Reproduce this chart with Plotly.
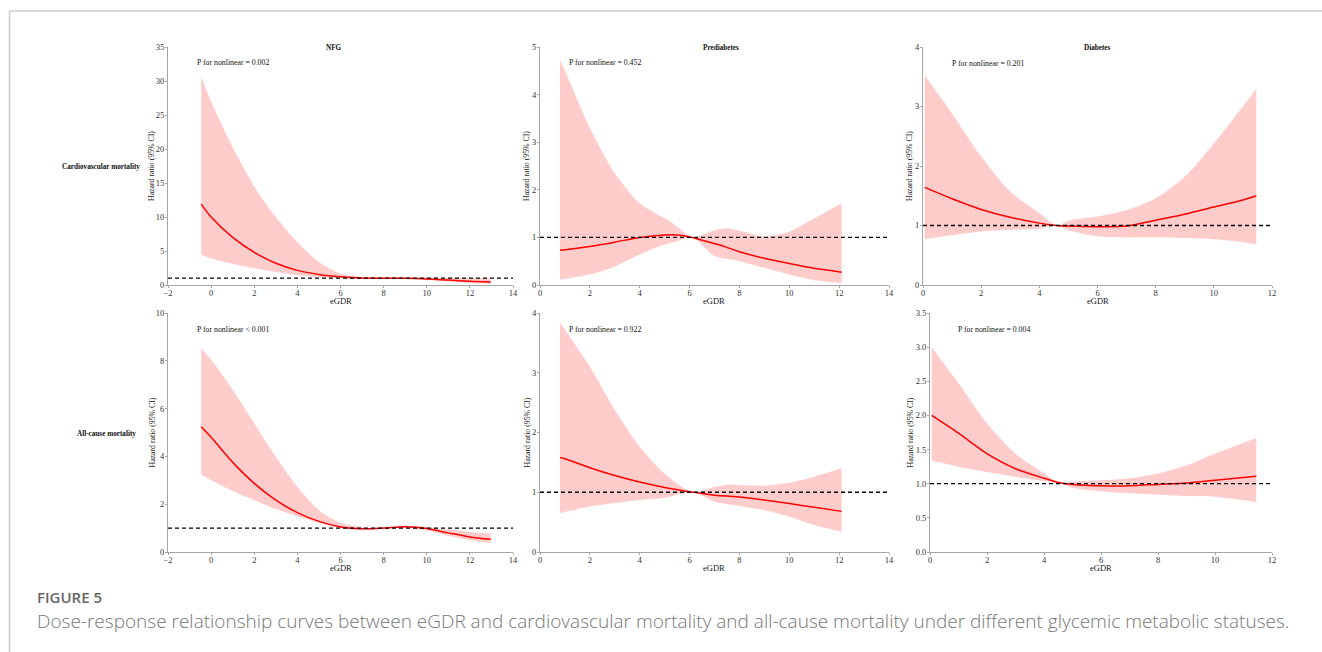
import plotly.graph_objects as go

W, H = 1322, 652

# ---------------- data ----------------
# Row 1: Cardiovascular mortality
nfg_cvd_x = [-0.46, 0, 1, 2, 3, 4, 5, 6, 7, 8, 9, 10, 11, 12, 12.97]
nfg_cvd_hr = [11.9, 10.0, 7.0, 4.8, 3.2, 2.15, 1.55, 1.2, 1.02, 1.0, 0.98, 0.9, 0.72, 0.55, 0.45]
nfg_cvd_up = [30.6, 27.0, 20.3, 14.5, 10.0, 6.3, 3.4, 1.7, 1.15, 1.05, 1.05, 1.1, 1.05, 0.98, 0.95]
nfg_cvd_lo = [4.5, 3.9, 3.1, 2.5, 1.9, 1.45, 1.15, 1.0, 0.95, 0.95, 0.9, 0.75, 0.5, 0.3, 0.2]

pre_cvd_x = [0.8, 1, 2, 3, 4, 5, 5.5, 6.1, 7, 7.5, 8, 9, 10, 11, 12.1]
pre_cvd_hr = [0.73, 0.74, 0.81, 0.9, 1.0, 1.05, 1.05, 1.0, 0.87, 0.79, 0.70, 0.56, 0.45, 0.35, 0.27]
pre_cvd_up = [4.72, 4.5, 3.3, 2.35, 1.72, 1.4, 1.23, 1.0, 1.15, 1.19, 1.14, 1.02, 1.12, 1.4, 1.72]
pre_cvd_lo = [0.11, 0.13, 0.22, 0.39, 0.64, 0.85, 0.92, 1.0, 0.61, 0.55, 0.5, 0.36, 0.22, 0.1, 0.04]

dia_cvd_x = [0.06, 1, 2, 3, 4, 4.6, 5, 6, 7, 8, 9, 10, 11, 11.46]
dia_cvd_hr = [1.64, 1.45, 1.27, 1.14, 1.04, 1.0, 0.99, 0.98, 0.99, 1.09, 1.19, 1.31, 1.43, 1.5]
dia_cvd_up = [3.52, 2.88, 2.16, 1.57, 1.21, 1.0, 1.08, 1.15, 1.26, 1.46, 1.82, 2.38, 3.0, 3.3]
dia_cvd_lo = [0.77, 0.84, 0.9, 0.93, 0.95, 1.0, 0.92, 0.82, 0.8, 0.8, 0.79, 0.77, 0.72, 0.68]

# Row 2: All-cause mortality
nfg_all_x = [-0.46, 0, 1, 2, 3, 4, 5, 6, 7, 8, 9, 10, 11, 12, 12.97]
nfg_all_hr = [5.24, 4.8, 3.75, 2.87, 2.17, 1.65, 1.28, 1.05, 0.97, 1.0, 1.06, 0.98, 0.8, 0.63, 0.53]
nfg_all_up = [8.53, 8.04, 6.78, 5.38, 3.99, 2.73, 1.75, 1.22, 1.04, 1.02, 1.1, 1.05, 0.94, 0.84, 0.77]
nfg_all_lo = [3.24, 3.0, 2.55, 2.17, 1.8, 1.5, 1.22, 1.0, 0.91, 0.98, 1.0, 0.9, 0.68, 0.49, 0.38]

pre_all_x = [0.8, 1, 2, 3, 4, 5, 6.15, 7, 7.7, 8, 9, 10, 11, 12.1]
pre_all_hr = [1.58, 1.56, 1.41, 1.28, 1.17, 1.08, 1.0, 0.95, 0.93, 0.92, 0.87, 0.81, 0.75, 0.68]
pre_all_up = [3.84, 3.72, 3.1, 2.38, 1.76, 1.31, 1.0, 1.09, 1.13, 1.12, 1.11, 1.16, 1.26, 1.4]
pre_all_lo = [0.65, 0.67, 0.76, 0.82, 0.87, 0.91, 1.0, 0.84, 0.79, 0.77, 0.70, 0.59, 0.45, 0.34]

dia_all_x = [0.06, 1, 2, 3, 4, 4.6, 5, 6, 7, 8, 9, 10, 11.45]
dia_all_hr = [2.0, 1.74, 1.44, 1.22, 1.08, 1.01, 0.99, 0.97, 0.97, 0.99, 1.01, 1.05, 1.11]
dia_all_up = [3.0, 2.47, 1.88, 1.44, 1.15, 1.01, 1.03, 1.05, 1.08, 1.15, 1.27, 1.44, 1.67]
dia_all_lo = [1.34, 1.25, 1.17, 1.10, 1.04, 1.01, 0.94, 0.89, 0.86, 0.84, 0.82, 0.81, 0.73]

col_titles = ["NFG", "Prediabetes", "Diabetes"]
row_titles = ["Cardiovascular mortality", "All-cause mortality"]
p_texts = ["P for nonlinear = 0.002", "P for nonlinear = 0.452", "P for nonlinear = 0.201",
           "P for nonlinear < 0.001", "P for nonlinear = 0.922", "P for nonlinear = 0.004"]
x_ranges = [[-2, 14], [0, 14], [0, 12]]
y_ranges = [[0, 35], [0, 5], [0, 4], [0, 10], [0, 4], [0, 3.5]]
y_dticks = [5, 1, 1, 2, 1, 0.5]
REF_HR = 1.0

panels = [
    (nfg_cvd_x, nfg_cvd_hr, nfg_cvd_up, nfg_cvd_lo),
    (pre_cvd_x, pre_cvd_hr, pre_cvd_up, pre_cvd_lo),
    (dia_cvd_x, dia_cvd_hr, dia_cvd_up, dia_cvd_lo),
    (nfg_all_x, nfg_all_hr, nfg_all_up, nfg_all_lo),
    (pre_all_x, pre_all_hr, pre_all_up, pre_all_lo),
    (dia_all_x, dia_all_hr, dia_all_up, dia_all_lo),
]

# ---------------- layout geometry (pixels) ----------------
x_px = [(168, 513), (540, 889), (923, 1272), (168, 513), (540, 889), (930, 1272)]
y_px = [(47, 285)] * 3 + [(313, 552)] * 3


def px(x):
    return x / W


def py(y):
    return 1 - y / H


SERIF = "Liberation Serif, Times New Roman, serif"
fig = go.Figure()
layout = dict(
    width=W, height=H, margin=dict(l=0, r=0, t=0, b=0, pad=0, autoexpand=False),
    paper_bgcolor="white", plot_bgcolor="white", showlegend=False,
)
annotations = []
shapes = []


def note(text, x, y, size=8, xanchor="center", yanchor="middle", angle=0, color="#222",
         family=SERIF, weight=None):
    f = dict(family=family, size=size, color=color)
    if weight is not None:
        f["weight"] = weight
    annotations.append(dict(text=text, x=px(x), y=py(y), xref="paper", yref="paper",
                            xanchor=xanchor, yanchor=yanchor, textangle=angle,
                            showarrow=False, font=f, borderpad=0))


for i, (xs, hr, up, lo) in enumerate(panels):
    n = i + 1
    xa = "x" if n == 1 else f"x{n}"
    ya = "y" if n == 1 else f"y{n}"
    fig.add_trace(go.Scatter(x=xs, y=lo, xaxis=xa, yaxis=ya, mode="lines",
                             line=dict(width=0, shape="spline", smoothing=0.8),
                             hoverinfo="skip"))
    fig.add_trace(go.Scatter(x=xs, y=up, xaxis=xa, yaxis=ya, mode="lines",
                             line=dict(width=0, shape="spline", smoothing=0.8),
                             fill="tonexty", fillcolor="#ffcccc", hoverinfo="skip"))
    fig.add_trace(go.Scatter(x=xs, y=hr, xaxis=xa, yaxis=ya, mode="lines",
                             line=dict(color="#ff0000", width=1.5, shape="spline", smoothing=0.8)))
    x0, x1 = x_px[i]
    y0, y1 = y_px[i]
    axis_common = dict(showline=True, linecolor="#a6a6a6", linewidth=1, ticks="outside",
                       ticklen=2, tickcolor="#a6a6a6", showgrid=False, zeroline=False,
                       automargin=False,
                       tickfont=dict(family=SERIF, size=8.5, color="#333333"))
    layout["xaxis" if n == 1 else f"xaxis{n}"] = dict(
        domain=[px(x0), px(x1)], anchor=ya, range=x_ranges[i % 3], dtick=2, tick0=0,
        ticklabelstandoff=-2, **axis_common)
    yfmt = ".1f" if y_dticks[i] < 1 else ""
    layout["yaxis" if n == 1 else f"yaxis{n}"] = dict(
        domain=[py(y1), py(y0)], anchor=xa, range=y_ranges[i], dtick=y_dticks[i], tick0=0,
        tickformat=yfmt, ticklabelstandoff=-1, **axis_common)
    # reference line at HR = 1
    shapes.append(dict(type="line", xref=f"{xa} domain", yref=ya, x0=0, x1=1,
                       y0=REF_HR, y1=REF_HR, line=dict(color="#000000", width=1.3, dash="4px,3px")))
    # x title
    note("eGDR", (x0 + x1) / 2, y1 + 16, size=8.5)
    # y title
    yt_x = [152, 527, 910, 152, 527, 910][i]
    note("Hazard ratio (95% CI)", yt_x, (y0 + y1) / 2, angle=-90, size=7.8)
    # P annotation
    p_x = [196, 568, 951, 196, 568, 957][i]
    p_y = [62, 62, 63, 329, 329, 329][i]
    note(p_texts[i], p_x, p_y, xanchor="left", color="#111", size=7.8)

# column titles
for cx, t in zip([334, 721, 1097], col_titles):
    note(f"<b>{t}</b>", cx, 48, size=7.2, color="#111")
# row titles
for (rx, ry), t in zip([(141, 167), (137, 434)], row_titles):
    note(f"<b>{t}</b>", rx, ry, size=7.2, xanchor="right", color="#111")

# caption
note("FIGURE 5", 36, 597, size=15, xanchor="left", color="#666666",
     family="Open Sans, sans-serif", weight=600)
note("Dose-response relationship curves between eGDR and cardiovascular mortality "
     "and all-cause mortality under different glycemic metabolic statuses.",
     36, 621, size=19, xanchor="left", color="#777777",
     family="Open Sans, sans-serif", weight=300)

# page frame
shapes.append(dict(type="line", xref="paper", yref="paper", x0=px(9.5), x1=1, y0=py(11), y1=py(11),
                   line=dict(color="#cccccc", width=1.5)))
shapes.append(dict(type="line", xref="paper", yref="paper", x0=px(9.5), x1=px(9.5), y0=py(11), y1=0,
                   line=dict(color="#cccccc", width=1.5)))

layout["annotations"] = annotations
layout["shapes"] = shapes
fig.update_layout(**layout)
fig.write_html("out.html")
